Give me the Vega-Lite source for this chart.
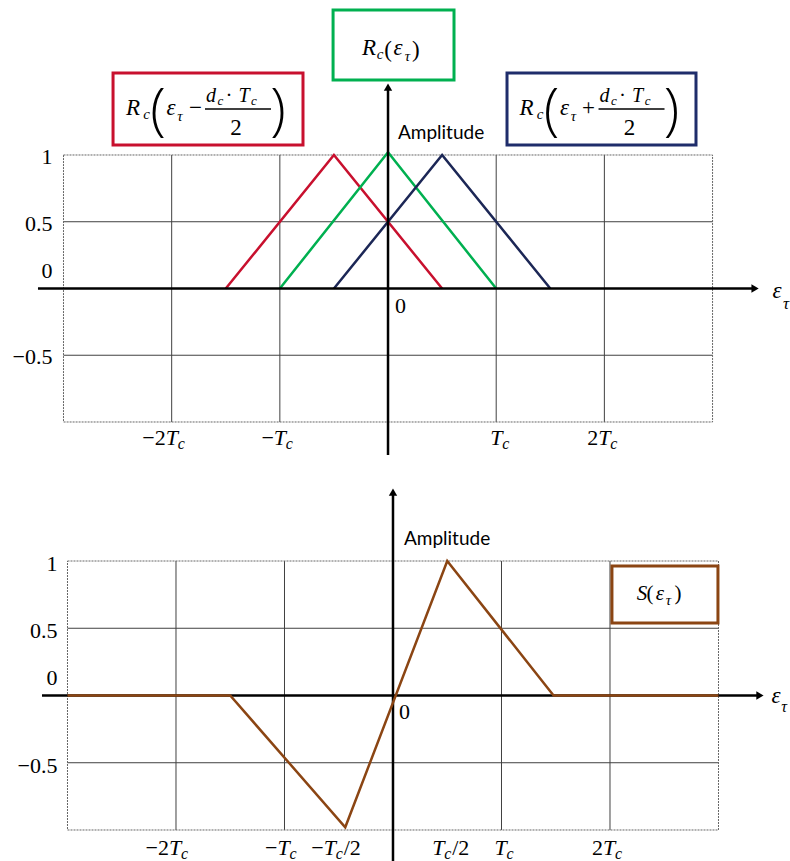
{
  "$schema": "https://vega.github.io/schema/vega-lite/v6.json",
  "padding": 0,
  "spacing": 0,
  "bounds": "flush",
  "background": "white",
  "config": {
    "view": {"stroke": null},
    "axis": {"disable": true},
    "style": {
      "it": {"font": "Liberation Serif", "fontStyle": "italic", "fontSize": 23, "baseline": "alphabetic", "align": "center"},
      "itn": {"font": "Liberation Serif", "fontStyle": "italic", "fontSize": 21, "baseline": "alphabetic", "align": "center"},
      "sub": {"font": "Liberation Serif", "fontStyle": "italic", "fontSize": 15, "baseline": "alphabetic", "align": "center"},
      "subs": {"font": "Liberation Serif", "fontStyle": "italic", "fontSize": 13, "baseline": "alphabetic", "align": "center"},
      "up": {"font": "Liberation Serif", "fontSize": 23, "baseline": "alphabetic", "align": "center"},
      "upt": {"font": "Liberation Serif", "fontSize": 21, "baseline": "alphabetic", "align": "center"},
      "tk": {"font": "Liberation Serif", "fontSize": 22, "baseline": "alphabetic", "align": "center"},
      "tki": {"font": "Liberation Serif", "fontStyle": "italic", "fontSize": 22, "baseline": "alphabetic", "align": "left"},
      "tks": {"font": "Liberation Serif", "fontStyle": "italic", "fontSize": 16, "baseline": "alphabetic", "align": "left"},
      "big": {"font": "Open Sans", "fontWeight": 300, "fontSize": 57, "baseline": "alphabetic", "align": "center"},
      "sans": {"font": "Lato", "fontSize": 19, "baseline": "alphabetic", "align": "left"}
    }
  },
  "vconcat": [
    {
      "width": 790,
      "height": 470,
      "layer": [
        {"data": {"values": [{"x": -2}, {"x": -1}, {"x": 1}, {"x": 2}]}, "mark": {"type": "rule", "color": "#404040", "strokeWidth": 1},
         "encoding": {"x": {"field": "x", "type": "quantitative", "scale": {"domain": [-3.587, 3.716], "nice": false, "zero": false}, "axis": null},
                      "y": {"datum": -1, "type": "quantitative", "scale": {"domain": [-1.3596, 2.161], "nice": false, "zero": false}, "axis": null},
                      "y2": {"datum": 1}}},
        {"data": {"values": [{"y": 0.5}, {"y": -0.5}]}, "mark": {"type": "rule", "color": "#404040", "strokeWidth": 1}, "encoding": {"y": {"field": "y", "type": "quantitative"}, "x": {"datum": -3}, "x2": {"datum": 3}}},
        {"data": {"values": [{"k": 1}]}, "mark": {"type": "rect", "filled": false, "color": "#666666", "strokeWidth": 1, "strokeDash": [2, 1]}, "encoding": {"x": {"datum": -3}, "x2": {"datum": 3}, "y": {"datum": -1}, "y2": {"datum": 1}}},
        {
          "data": {"values": [
            {"s": "L", "x": -1.5, "y": 0}, {"s": "L", "x": -0.5, "y": 1}, {"s": "L", "x": 0.5, "y": 0},
            {"s": "C", "x": -1, "y": 0}, {"s": "C", "x": 0, "y": 1.02}, {"s": "C", "x": 1, "y": 0},
            {"s": "R", "x": -0.5, "y": 0}, {"s": "R", "x": 0.5, "y": 1}, {"s": "R", "x": 1.5, "y": 0}
          ]},
          "mark": {"type": "line", "strokeWidth": 2.5},
          "encoding": {"x": {"field": "x", "type": "quantitative"}, "y": {"field": "y", "type": "quantitative"},
                       "color": {"field": "s", "type": "nominal", "scale": {"domain": ["L", "C", "R"], "range": ["#c8102e", "#00b050", "#1c2756"]}, "legend": null}}
        },
        {"data": {"values": [{"k": 1}]}, "mark": {"type": "rule", "color": "black", "strokeWidth": 2.5}, "encoding": {"x": {"datum": -3.236}, "x2": {"datum": 3.365}, "y": {"datum": 0}}},
        {"data": {"values": [{"k": 1}]}, "mark": {"type": "rule", "color": "black", "strokeWidth": 2.5}, "encoding": {"x": {"datum": 0}, "y": {"datum": -1.247}, "y2": {"datum": 1.487}}},
        {"data": {"values": [{"k": 1}]}, "mark": {"type": "point", "shape": "triangle-right", "filled": true, "color": "black", "size": 70, "opacity": 1}, "encoding": {"x": {"datum": 3.393}, "y": {"datum": 0}}},
        {"data": {"values": [{"k": 1}]}, "mark": {"type": "point", "shape": "triangle-up", "filled": true, "color": "black", "size": 70, "opacity": 1}, "encoding": {"x": {"datum": 0}, "y": {"datum": 1.509}}},
        {
          "data": {"values": [
            {"b": "L", "x": -2.542, "x2": -0.786, "y": 1.614, "y2": 1.075},
            {"b": "C", "x": -0.508, "x2": 0.61, "y": 2.086, "y2": 1.562},
            {"b": "R", "x": 1.1, "x2": 2.847, "y": 1.614, "y2": 1.075}
          ]},
          "mark": {"type": "rect", "fill": "white", "strokeWidth": 3},
          "encoding": {"x": {"field": "x", "type": "quantitative"}, "y": {"field": "y", "type": "quantitative"}, "x2": {"field": "x2"}, "y2": {"field": "y2"},
                       "stroke": {"field": "b", "type": "nominal", "scale": {"domain": ["L", "C", "R"], "range": ["#c8102e", "#00b050", "#1f2d6b"]}, "legend": null}}
        },
        {"data": {"values": [{"x": -2.357, "y": 1.3, "t": "R"}, {"x": -2.006, "y": 1.3, "t": "ε"}, {"x": 1.281, "y": 1.3, "t": "R"}, {"x": 1.632, "y": 1.3, "t": "ε"}, {"x": -0.175, "y": 1.749, "t": "R"}, {"x": 0.092, "y": 1.749, "t": "ε"}]}, "mark": {"type": "text", "style": "it"},
         "encoding": {"x": {"field": "x", "type": "quantitative"}, "y": {"field": "y", "type": "quantitative"}, "text": {"field": "t"}}},
        {"data": {"values": [{"x": -1.636, "y": 1.397, "t": "d"}, {"x": -1.331, "y": 1.397, "t": "T"}, {"x": 2.002, "y": 1.397, "t": "d"}, {"x": 2.307, "y": 1.397, "t": "T"}]}, "mark": {"type": "text", "style": "itn", "fontSize": 20},
         "encoding": {"x": {"field": "x", "type": "quantitative"}, "y": {"field": "y", "type": "quantitative"}, "text": {"field": "t"}}},
        {"data": {"values": [{"x": -2.233, "y": 1.27, "t": "c"}, {"x": -1.923, "y": 1.255, "t": "τ"}, {"x": 1.405, "y": 1.27, "t": "c"}, {"x": 1.715, "y": 1.255, "t": "τ"}, {"x": -0.074, "y": 1.719, "t": "c"}, {"x": 0.18, "y": 1.704, "t": "τ"}]}, "mark": {"type": "text", "style": "sub"},
         "encoding": {"x": {"field": "x", "type": "quantitative"}, "y": {"field": "y", "type": "quantitative"}, "text": {"field": "t"}}},
        {"data": {"values": [{"x": -1.549, "y": 1.375, "t": "c"}, {"x": -1.239, "y": 1.375, "t": "c"}, {"x": 2.089, "y": 1.375, "t": "c"}, {"x": 2.399, "y": 1.375, "t": "c"}]}, "mark": {"type": "text", "style": "subs"},
         "encoding": {"x": {"field": "x", "type": "quantitative"}, "y": {"field": "y", "type": "quantitative"}, "text": {"field": "t"}}},
        {"data": {"values": [{"x": -1.78, "y": 1.3, "t": "−"}, {"x": 1.854, "y": 1.3, "t": "+"}, {"x": -1.405, "y": 1.15, "t": "2"}, {"x": 2.233, "y": 1.15, "t": "2"}, {"x": 0.0, "y": 1.734, "t": "("}, {"x": 0.257, "y": 1.734, "t": ")"}]}, "mark": {"type": "text", "style": "up"},
         "encoding": {"x": {"field": "x", "type": "quantitative"}, "y": {"field": "y", "type": "quantitative"}, "text": {"field": "t"}}},
        {"data": {"values": [{"x": -1.47, "y": 1.397, "t": "·"}, {"x": 2.168, "y": 1.397, "t": "·"}]}, "mark": {"type": "text", "style": "upt"},
         "encoding": {"x": {"field": "x", "type": "quantitative"}, "y": {"field": "y", "type": "quantitative"}, "text": {"field": "t"}}},
        {"data": {"values": [{"x": -2.126, "y": 1.195, "t": "("}, {"x": -1.017, "y": 1.195, "t": ")"}, {"x": 1.512, "y": 1.195, "t": "("}, {"x": 2.621, "y": 1.195, "t": ")"}]}, "mark": {"type": "text", "style": "big"},
         "encoding": {"x": {"field": "x", "type": "quantitative"}, "y": {"field": "y", "type": "quantitative"}, "text": {"field": "t"}}},
        {"data": {"values": [{"x": -1.692, "x2": -1.082, "y": 1.345}, {"x": 1.946, "x2": 2.556, "y": 1.345}]}, "mark": {"type": "rule", "color": "black", "strokeWidth": 1.5},
         "encoding": {"x": {"field": "x", "type": "quantitative"}, "y": {"field": "y", "type": "quantitative"}, "x2": {"field": "x2"}}},
        {"data": {"values": [{"k": 1}]}, "mark": {"type": "text", "style": "sans", "text": "Amplitude"}, "encoding": {"x": {"datum": 0.092}, "y": {"datum": 1.12}}},
        {
          "data": {"values": [{"x": -2, "p": "−2"}, {"x": -1, "p": "−"}, {"x": 1, "p": ""}, {"x": 2, "p": "2"}]},
          "layer": [
            {"mark": {"type": "text", "style": "tk", "align": "right", "dx": -6}, "encoding": {"x": {"field": "x", "type": "quantitative"}, "y": {"datum": -1.172}, "text": {"field": "p"}}},
            {"mark": {"type": "text", "style": "tki", "dx": -6, "text": "T"}, "encoding": {"x": {"field": "x", "type": "quantitative"}, "y": {"datum": -1.172}}},
            {"mark": {"type": "text", "style": "tks", "dx": 6, "dy": 4, "text": "c"}, "encoding": {"x": {"field": "x", "type": "quantitative"}, "y": {"datum": -1.172}}}
          ]
        },
        {"data": {"values": [{"y": 1, "t": "1"}, {"y": 0.5, "t": "0.5"}, {"y": -0.5, "t": "−0.5"}]}, "mark": {"type": "text", "style": "tk", "align": "right", "baseline": "middle", "dx": -11, "dy": 2},
         "encoding": {"x": {"datum": -3}, "y": {"field": "y", "type": "quantitative"}, "text": {"field": "t"}}},
        {"data": {"values": [{"k": 1}]}, "mark": {"type": "text", "style": "tk", "align": "right", "baseline": "middle", "dx": -11, "dy": -17, "text": "0"}, "encoding": {"x": {"datum": -3}, "y": {"datum": 0}}},
        {"data": {"values": [{"k": 1}]}, "mark": {"type": "text", "style": "tk", "align": "left", "baseline": "middle", "dx": 7, "dy": 18, "text": "0"}, "encoding": {"x": {"datum": 0}, "y": {"datum": 0}}},
        {"data": {"values": [{"k": 1}]}, "mark": {"type": "text", "style": "it", "dy": 9.5, "text": "ε"}, "encoding": {"x": {"datum": 3.596}, "y": {"datum": 0}}},
        {"data": {"values": [{"k": 1}]}, "mark": {"type": "text", "style": "sub", "fontSize": 17, "dy": 21, "text": "τ"}, "encoding": {"x": {"datum": 3.679}, "y": {"datum": 0}}}
      ]
    },
    {
      "width": 790,
      "height": 391,
      "layer": [
        {"data": {"values": [{"x": -2}, {"x": -1}, {"x": 1}, {"x": 2}]}, "mark": {"type": "rule", "color": "#404040", "strokeWidth": 1},
         "encoding": {"x": {"field": "x", "type": "quantitative", "scale": {"domain": [-3.622, 3.659], "nice": false, "zero": false}, "axis": null},
                      "y": {"datum": -1, "type": "quantitative", "scale": {"domain": [-1.2305, 1.6766], "nice": false, "zero": false}, "axis": null},
                      "y2": {"datum": 1}}},
        {"data": {"values": [{"y": 0.5}, {"y": -0.5}]}, "mark": {"type": "rule", "color": "#404040", "strokeWidth": 1}, "encoding": {"y": {"field": "y", "type": "quantitative"}, "x": {"datum": -3}, "x2": {"datum": 3}}},
        {"data": {"values": [{"k": 1}]}, "mark": {"type": "rect", "filled": false, "color": "#666666", "strokeWidth": 1, "strokeDash": [2, 1]}, "encoding": {"x": {"datum": -3}, "x2": {"datum": 3}, "y": {"datum": -1}, "y2": {"datum": 1}}},
        {"data": {"values": [{"k": 1}]}, "mark": {"type": "rule", "color": "black", "strokeWidth": 2.5}, "encoding": {"x": {"datum": -3.235}, "x2": {"datum": 3.355}, "y": {"datum": 0}}},
        {"data": {"values": [{"k": 1}]}, "mark": {"type": "rule", "color": "black", "strokeWidth": 2.5}, "encoding": {"x": {"datum": 0}, "y": {"datum": -1.25}, "y2": {"datum": 1.491}}},
        {"data": {"values": [{"k": 1}]}, "mark": {"type": "point", "shape": "triangle-right", "filled": true, "color": "black", "size": 70, "opacity": 1}, "encoding": {"x": {"datum": 3.382}, "y": {"datum": 0}}},
        {"data": {"values": [{"k": 1}]}, "mark": {"type": "point", "shape": "triangle-up", "filled": true, "color": "black", "size": 70, "opacity": 1}, "encoding": {"x": {"datum": 0}, "y": {"datum": 1.513}}},
        {
          "data": {"values": [
            {"x": -3, "y": 0}, {"x": -1.5, "y": 0}, {"x": -0.44, "y": -0.98}, {"x": 0.5, "y": 1}, {"x": 1.48, "y": 0}, {"x": 3, "y": 0}
          ]},
          "mark": {"type": "line", "strokeWidth": 2.5, "color": "#8b4513"},
          "encoding": {"x": {"field": "x", "type": "quantitative"}, "y": {"field": "y", "type": "quantitative"}}
        },
        {"data": {"values": [{"x": 2.018, "x2": 2.995, "y": 0.963, "y2": 0.539}]}, "mark": {"type": "rect", "fill": "white", "stroke": "#8b4513", "strokeWidth": 3},
         "encoding": {"x": {"field": "x", "type": "quantitative"}, "y": {"field": "y", "type": "quantitative"}, "x2": {"field": "x2"}, "y2": {"field": "y2"}}},
        {"data": {"values": [{"x": 2.295, "y": 0.71, "t": "S"}, {"x": 2.461, "y": 0.71, "t": "ε"}]}, "mark": {"type": "text", "style": "itn"},
         "encoding": {"x": {"field": "x", "type": "quantitative"}, "y": {"field": "y", "type": "quantitative"}, "text": {"field": "t"}}},
        {"data": {"values": [{"x": 2.369, "y": 0.71, "t": "("}, {"x": 2.627, "y": 0.71, "t": ")"}]}, "mark": {"type": "text", "style": "upt"},
         "encoding": {"x": {"field": "x", "type": "quantitative"}, "y": {"field": "y", "type": "quantitative"}, "text": {"field": "t"}}},
        {"data": {"values": [{"x": 2.539, "y": 0.673, "t": "τ"}]}, "mark": {"type": "text", "style": "sub"},
         "encoding": {"x": {"field": "x", "type": "quantitative"}, "y": {"field": "y", "type": "quantitative"}, "text": {"field": "t"}}},
        {"data": {"values": [{"k": 1}]}, "mark": {"type": "text", "style": "sans", "text": "Amplitude"}, "encoding": {"x": {"datum": 0.101}, "y": {"datum": 1.119}}},
        {
          "data": {"values": [{"x": -2, "p": "−2"}, {"x": -1, "p": "−"}, {"x": 1, "p": ""}, {"x": 2, "p": "2"}]},
          "layer": [
            {"mark": {"type": "text", "style": "tk", "align": "right", "dx": -7}, "encoding": {"x": {"field": "x", "type": "quantitative"}, "y": {"datum": -1.186}, "text": {"field": "p"}}},
            {"mark": {"type": "text", "style": "tki", "dx": -7, "text": "T"}, "encoding": {"x": {"field": "x", "type": "quantitative"}, "y": {"datum": -1.186}}},
            {"mark": {"type": "text", "style": "tks", "dx": 5, "dy": 4, "text": "c"}, "encoding": {"x": {"field": "x", "type": "quantitative"}, "y": {"datum": -1.186}}}
          ]
        },
        {
          "data": {"values": [{"x": -0.5, "p": "−"}, {"x": 0.5, "p": ""}]},
          "layer": [
            {"mark": {"type": "text", "style": "tk", "align": "right", "dx": -15}, "encoding": {"x": {"field": "x", "type": "quantitative"}, "y": {"datum": -1.186}, "text": {"field": "p"}}},
            {"mark": {"type": "text", "style": "tki", "dx": -15, "text": "T"}, "encoding": {"x": {"field": "x", "type": "quantitative"}, "y": {"datum": -1.186}}},
            {"mark": {"type": "text", "style": "tks", "dx": -3, "dy": 4, "text": "c"}, "encoding": {"x": {"field": "x", "type": "quantitative"}, "y": {"datum": -1.186}}},
            {"mark": {"type": "text", "style": "tk", "align": "left", "dx": 5, "text": "/2"}, "encoding": {"x": {"field": "x", "type": "quantitative"}, "y": {"datum": -1.186}}}
          ]
        },
        {"data": {"values": [{"y": 1, "t": "1"}, {"y": 0.5, "t": "0.5"}, {"y": -0.5, "t": "−0.5"}]}, "mark": {"type": "text", "style": "tk", "align": "right", "baseline": "middle", "dx": -10, "dy": 3},
         "encoding": {"x": {"datum": -3}, "y": {"field": "y", "type": "quantitative"}, "text": {"field": "t"}}},
        {"data": {"values": [{"k": 1}]}, "mark": {"type": "text", "style": "tk", "align": "right", "baseline": "middle", "dx": -10, "dy": -17, "text": "0"}, "encoding": {"x": {"datum": -3}, "y": {"datum": 0}}},
        {"data": {"values": [{"k": 1}]}, "mark": {"type": "text", "style": "tk", "align": "left", "baseline": "middle", "dx": 6, "dy": 17, "text": "0"}, "encoding": {"x": {"datum": 0}, "y": {"datum": 0}}},
        {"data": {"values": [{"k": 1}]}, "mark": {"type": "text", "style": "it", "dy": 7.5, "text": "ε"}, "encoding": {"x": {"datum": 3.531}, "y": {"datum": 0}}},
        {"data": {"values": [{"k": 1}]}, "mark": {"type": "text", "style": "sub", "fontSize": 16, "dy": 17, "text": "τ"}, "encoding": {"x": {"datum": 3.605}, "y": {"datum": 0}}}
      ]
    }
  ]
}
